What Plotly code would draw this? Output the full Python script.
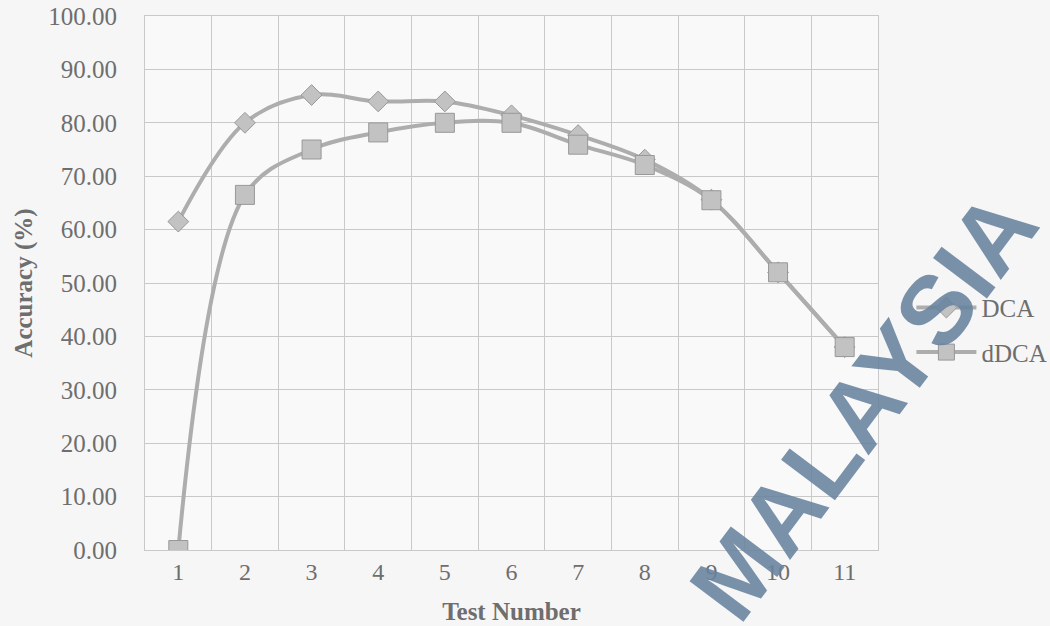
import plotly.graph_objects as go

# Test runs and accuracy (%) for the two classifiers
tests = ["1", "2", "3", "4", "5", "6", "7", "8", "9", "10", "11"]
dca = [61.5, 80.0, 85.2, 84.0, 84.0, 81.4, 77.7, 73.1, 65.6, 52.0, 38.0]
ddca = [0.0, 66.5, 75.0, 78.2, 80.0, 80.0, 75.9, 72.1, 65.5, 52.0, 38.0]
y_ticks = [0, 10, 20, 30, 40, 50, 60, 70, 80, 90, 100]

TEXT = "#6e6e6e"
GRID = "#c9c9c9"
LINE = "#adadad"
MARK = "#c2c2c2"
MARK_EDGE = "#989898"
SERIF = "Liberation Serif, Times New Roman, serif"

fig = go.Figure()
fig.add_trace(go.Scatter(
    x=tests, y=dca, name="DCA", mode="lines+markers", legendgroup="a",
    line=dict(color=LINE, width=4, shape="spline"),
    marker=dict(symbol="diamond", size=16, color=MARK,
                line=dict(color=MARK_EDGE, width=1)),
))
fig.add_trace(go.Scatter(
    x=tests, y=ddca, name="dDCA", mode="lines+markers", legendgroup="b",
    line=dict(color=LINE, width=4, shape="spline"),
    marker=dict(symbol="square", size=19, color=MARK,
                line=dict(color=MARK_EDGE, width=1)),
))

fig.update_layout(
    width=1050, height=626,
    margin=dict(l=145, r=172, t=16, b=76, autoexpand=False),
    paper_bgcolor="#f6f6f6",
    plot_bgcolor="#f9f9f9",
    font=dict(family=SERIF, size=24, color=TEXT),
    showlegend=True,
    legend=dict(xref="container", yref="container", x=0.868, y=0.545,
                xanchor="left", yanchor="top",
                bgcolor="rgba(0,0,0,0)", font=dict(size=25, color=TEXT),
                itemwidth=60, tracegroupgap=9),
    xaxis=dict(
        type="category", tickson="boundaries", range=[-0.5, 10.5],
        automargin=False,
        showgrid=True, gridcolor=GRID, gridwidth=1,
        showline=True, linecolor=GRID, mirror=True,
        ticks="outside", ticklen=18, tickcolor="rgba(0,0,0,0)",
        tickfont=dict(size=24, color=TEXT),
        title=dict(text="<b>Test Number</b>", font=dict(size=25, color=TEXT),
                   standoff=18),
    ),
    yaxis=dict(
        range=[0, 100], tickvals=y_ticks, tickformat=".2f",
        automargin=False,
        showgrid=True, gridcolor=GRID, gridwidth=1,
        showline=True, linecolor=GRID, mirror=True, zeroline=False,
        ticks="outside", ticklen=22, tickcolor="rgba(0,0,0,0)",
        tickfont=dict(size=25, color=TEXT),
        title=dict(text="<b>Accuracy (%)</b>", font=dict(size=25, color=TEXT),
                   standoff=8),
    ),
)

# Institutional watermark stamped across the lower right
fig.add_annotation(
    text="<b>MALAYSIA</b>", xref="paper", yref="paper", x=0.98, y=0.27,
    xanchor="center", yanchor="middle",
    showarrow=False, textangle=-53,
    font=dict(family="Liberation Sans, Arial, sans-serif", size=98,
              color="rgba(104,130,158,0.88)"),
)

fig.write_html("out.html")
